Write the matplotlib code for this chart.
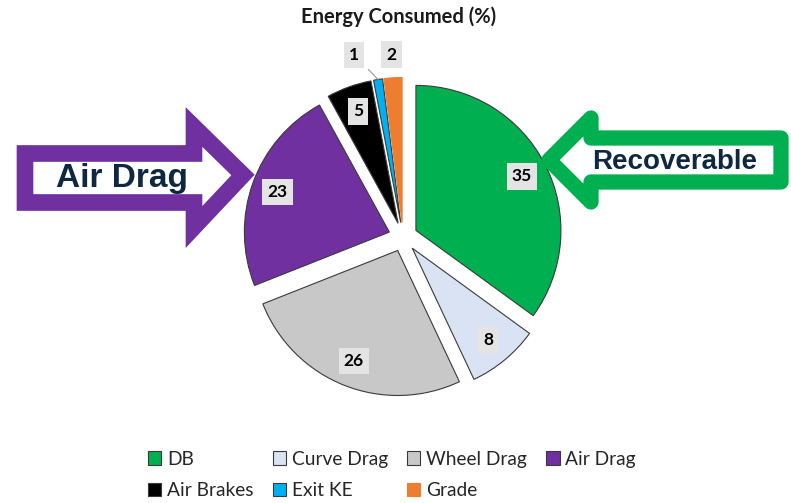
import numpy as np
import matplotlib
matplotlib.use("Agg")
import matplotlib.pyplot as plt
from matplotlib.patches import Polygon

plt.rcParams['font.family'] = ['Lato', 'DejaVu Sans']

# data
categories = ['DB', 'Curve Drag', 'Wheel Drag', 'Air Drag',
              'Air Brakes', 'Exit KE', 'Grade']
values = [35, 8, 26, 23, 5, 1, 2]
colors = ['#00B050', '#DAE3F3', '#C8C8C8', '#7030A0',
          '#000000', '#00B0F0', '#ED7D31']
title = 'Energy Consumed (%)'

W, H = 791, 503
fig = plt.figure(figsize=(W / 100, H / 100), dpi=100)

# pie axes, centre ~ (403, 237) px, radius ~ 145 px
cx, cy, r_px = 403, 237, 145
half = r_px * 1.4
ax = fig.add_axes([(cx - half) / W, (H - cy - half) / H,
                   2 * half / W, 2 * half / H])

explode = [0.1] * len(values)
wedges, _ = ax.pie(values, colors=colors, startangle=90, counterclock=False,
                   explode=explode, radius=1,
                   wedgeprops=dict(edgecolor='#3a3a3a', linewidth=0.8))
wedges[-1].set_edgecolor(colors[-1])
ax.set_xlim(-1.4, 1.4)
ax.set_ylim(-1.4, 1.4)
ax.axis('off')

# value labels
box = dict(boxstyle='square,pad=0.3', facecolor='#E4E4E4', edgecolor='none')
total = sum(values)
start = 90.0
for i, v in enumerate(values):
    theta1 = start
    start -= 360.0 * v / total
    mid = np.deg2rad((theta1 + start) / 2)
    if v >= 3:
        d = explode[i] + 0.82
        ax.text(d * np.cos(mid), d * np.sin(mid), str(v), ha='center',
                va='center', fontsize=12.5, fontweight='bold', bbox=box)
    else:
        if categories[i] == 'Exit KE':
            ang = mid + np.deg2rad(6)
            d = 1.3
            tx, ty = d * np.cos(ang), d * np.sin(ang)
            px, py = 1.1 * np.cos(mid), 1.1 * np.sin(mid)
            ax.annotate(str(v), xy=(px, py), xytext=(tx, ty),
                        ha='center', va='center', fontsize=12.5,
                        fontweight='bold', bbox=box,
                        arrowprops=dict(arrowstyle='-', color='#999999',
                                        lw=0.8, shrinkA=4, shrinkB=0))
        else:
            d = 1.26
            ax.text(d * np.cos(mid), d * np.sin(mid), str(v), ha='center',
                    va='center', fontsize=12.5, fontweight='bold', bbox=box)

fig.text(399 / W, 1 - 17 / H, title, ha='center', va='center',
         fontsize=14.5, fontweight='bold', color='#1a1a1a')

# legend, reordered so the columns read row by row
order = [0, 4, 1, 5, 2, 6, 3]
leg = fig.legend([wedges[i] for i in order], [categories[i] for i in order],
                 ncol=4, frameon=False, loc='upper left',
                 bbox_to_anchor=(140 / W, 1 - 443 / H), borderaxespad=0,
                 fontsize=13.8, handlelength=0.7, handleheight=0.7,
                 handletextpad=0.3, columnspacing=1.0, labelspacing=0.75)
for t in leg.get_texts():
    t.set_color('#262626')

# callout arrows in pixel coordinates
ov = fig.add_axes([0, 0, 1, 1], zorder=5)
ov.set_xlim(0, W)
ov.set_ylim(H, 0)
ov.axis('off')

purple = [(25, 153.5), (194, 153.5), (194, 127), (243, 175),
          (194, 227), (194, 202.5), (25, 202.5)]
ov.add_patch(Polygon(purple, closed=True, facecolor='white',
                     edgecolor='#7030A0', linewidth=12, joinstyle='miter'))
ov.text(122, 179, 'Air Drag', ha='center', va='center', fontsize=24,
        fontweight='bold', color='#0E2841', family=['Liberation Sans'])

green = [(781, 138), (591, 138), (591, 118), (549, 160),
         (591, 202), (591, 182), (781, 182)]
ov.add_patch(Polygon(green, closed=True, facecolor='white',
                     edgecolor='#00B050', linewidth=11, joinstyle='round'))
ov.text(675, 162, 'Recoverable', ha='center', va='center', fontsize=20,
        fontweight='bold', color='#0E2841', family=['Liberation Sans'])

fig.savefig('out.png', dpi=100)
